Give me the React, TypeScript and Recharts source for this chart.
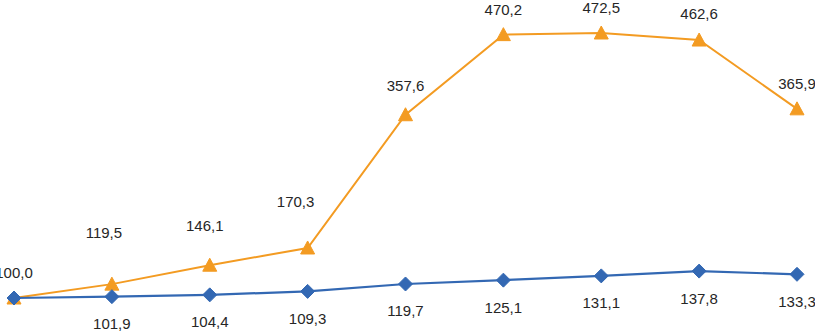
import React from 'react';
import { LineChart, Line, XAxis, YAxis } from 'recharts';

const categories = ['1', '2', '3', '4', '5', '6', '7', '8', '9'];
const seriesA = [100.0, 119.5, 146.1, 170.3, 357.6, 470.2, 472.5, 462.6, 365.9];
const seriesB = [100.0, 101.9, 104.4, 109.3, 119.7, 125.1, 131.1, 137.8, 133.3];

const data = categories.map((c, i) => ({ cat: c, a: seriesA[i], b: seriesB[i] }));

// label placement (layout only)
const labelUpA = [26, 52, 40, 46, 29, 25, 26, 27, 25];
const labelDxA = [0, -8, -5, -12, 0, 0, 0, 0, 0];
const labelDownB = 27;

const ORANGE = '#F39B22';
const BLUE = '#3368B3';
const FONT = '"Liberation Sans", Arial, sans-serif';

const fmt = (v: number) => v.toFixed(1).replace('.', ',');

const Triangle = (props: any) => {
  const { cx, cy } = props;
  if (cx == null || cy == null) return null;
  return (
    <polygon
      points={`${cx},${cy - 7} ${cx + 7},${cy + 6} ${cx - 7},${cy + 6}`}
      fill={ORANGE}
      stroke={ORANGE}
      strokeWidth={1}
    />
  );
};

const Diamond = (props: any) => {
  const { cx, cy } = props;
  if (cx == null || cy == null) return null;
  return (
    <polygon
      points={`${cx},${cy - 7} ${cx + 7},${cy} ${cx},${cy + 7} ${cx - 7},${cy}`}
      fill={BLUE}
      stroke={BLUE}
      strokeWidth={1}
    />
  );
};

const LabelA = (props: any) => {
  const { x, y, index, value } = props;
  return (
    <text
      x={x + labelDxA[index]}
      y={y - labelUpA[index]}
      textAnchor="middle"
      dominantBaseline="central"
      fontFamily={FONT}
      fontSize={15}
      fill="#262626"
    >
      {fmt(value)}
    </text>
  );
};

const LabelB = (props: any) => {
  const { x, y, index, value } = props;
  if (index === 0) return null;
  return (
    <text
      x={x}
      y={y + labelDownB}
      textAnchor="middle"
      dominantBaseline="central"
      fontFamily={FONT}
      fontSize={15}
      fill="#262626"
    >
      {fmt(value)}
    </text>
  );
};

export default function App() {
  return (
    <div style={{ position: 'absolute', left: 0, top: 0, background: '#fff' }}>
      <LineChart
        width={815}
        height={331}
        data={data}
        margin={{ top: 33, right: 18, bottom: 33, left: 14 }}
      >
        <XAxis dataKey="cat" hide padding={{ left: 0, right: 0 }} />
        <YAxis hide domain={[100, 472.5]} />
        <Line
          type="linear"
          dataKey="a"
          stroke={ORANGE}
          strokeWidth={2}
          dot={<Triangle />}
          activeDot={false}
          label={<LabelA />}
          isAnimationActive={false}
        />
        <Line
          type="linear"
          dataKey="b"
          stroke={BLUE}
          strokeWidth={2.2}
          dot={<Diamond />}
          activeDot={false}
          label={<LabelB />}
          isAnimationActive={false}
        />
      </LineChart>
    </div>
  );
}
